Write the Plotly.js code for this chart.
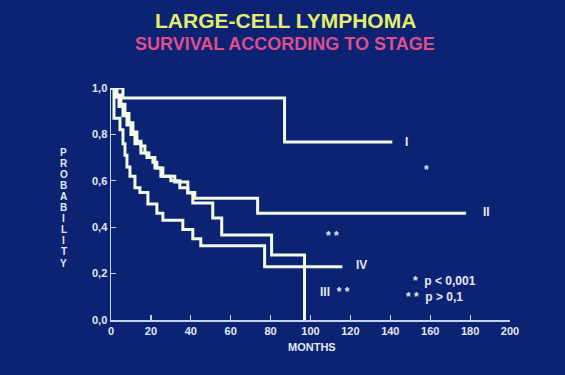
<!DOCTYPE html>
<html>
<head>
<meta charset="utf-8">
<script src="https://cdn.plot.ly/plotly-3.0.1.min.js"></script>
<style>html,body{margin:0;padding:0;background:#0c2272;}#chart{width:565px;height:375px;}</style>
</head>
<body>
<div id="chart"></div>
<script>
// Data (months, survival probability)
const stageI_t = [0, 6, 87, 141];
const stageI_s = [1.0, 0.957, 0.767, 0.767];

const stageII_t = [0, 3, 5, 7, 9, 11, 13, 15, 17, 19, 21, 23, 26, 32, 38.5, 42, 73.5, 178];
const stageII_s = [1.0, 0.97, 0.93, 0.89, 0.85, 0.81, 0.77, 0.75, 0.72, 0.70, 0.68, 0.655, 0.62, 0.595, 0.55, 0.525, 0.46, 0.46];

const stageIII_t = [0, 2.5, 4, 6, 8, 10, 12, 15, 18, 22, 25, 30, 34.5, 38.5, 41, 51, 55.5, 80.5, 97];
const stageIII_s = [1.0, 0.96, 0.92, 0.88, 0.84, 0.80, 0.76, 0.72, 0.70, 0.655, 0.62, 0.60, 0.57, 0.547, 0.504, 0.44, 0.366, 0.28, 0.0];

const stageIV_t = [0, 1.5, 4.5, 6, 7, 8, 9.5, 12, 14.5, 18.5, 23, 26, 36, 41, 45, 77, 116];
const stageIV_s = [1.0, 0.87, 0.82, 0.76, 0.71, 0.66, 0.62, 0.57, 0.55, 0.50, 0.46, 0.43, 0.39, 0.35, 0.32, 0.23, 0.23];

const titleText = "LARGE-CELL LYMPHOMA";
const subtitleText = "SURVIVAL ACCORDING TO STAGE";
const yTitle = "PROBABILITY";
const xTitle = "MONTHS";

const lineColor = "#f2fbe6";
const fontFam = "Liberation Sans, Arial, Helvetica, sans-serif";
const txtColor = "#e2e9f4";

function curve(t, s) {
  return {x: t, y: s, type: "scatter", mode: "lines",
    line: {shape: "hv", color: lineColor, width: 3},
    cliponaxis: false, hoverinfo: "skip", showlegend: false};
}

const data = [curve(stageI_t, stageI_s), curve(stageII_t, stageII_s),
              curve(stageIII_t, stageIII_s), curve(stageIV_t, stageIV_s)];

const lblFont = {family: fontFam, size: 12, color: txtColor, weight: "bold"};
function ann(o) { return Object.assign({showarrow: false, xanchor: "center", yanchor: "middle"}, o); }
const annotations = [
  ann({text: titleText, xref: "paper", yref: "paper", x: 0.437, y: 1.293,
   font: {family: fontFam, size: 21, color: "#e4ee6c", weight: "bold"}}),
  ann({text: subtitleText, xref: "paper", yref: "paper", x: 0.437, y: 1.19,
   font: {family: fontFam, size: 18, color: "#de4f8c", weight: "bold"}}),
  ann({text: xTitle, xref: "paper", yref: "paper", x: 0.505, y: -0.116,
   font: {family: fontFam, size: 11, color: txtColor, weight: "bold"}}),
  ann({text: "I", x: 148, y: 0.767, font: lblFont}),
  ann({text: "*", x: 158, y: 0.645, font: lblFont}),
  ann({text: "II", x: 188, y: 0.465, font: lblFont}),
  ann({text: "* *", x: 111, y: 0.362, font: lblFont}),
  ann({text: "IV", x: 125.5, y: 0.237, font: lblFont}),
  ann({text: "III  * *", x: 112.5, y: 0.122, font: lblFont}),
  ann({text: "*  p < 0,001", x: 150.5, y: 0.168, xanchor: "left", font: lblFont}),
  ann({text: "* *  p > 0,1", x: 147, y: 0.098, xanchor: "left", font: lblFont})
];
for (let i = 0; i < yTitle.length; i++) {
  annotations.push(ann({text: yTitle[i], xref: "paper", yref: "paper",
    x: -0.118, y: (320 - (152 + 11.1 * i)) / 232,
    font: {family: fontFam, size: 10, color: txtColor, weight: "bold"}}));
}

const axisCommon = {showline: true, linecolor: "#c5d3ee", linewidth: 1.5,
  showgrid: false, zeroline: false, ticks: "inside", ticklen: 5, tickwidth: 1.2,
  tickcolor: "#c5d3ee", tickfont: {family: fontFam, size: 11, color: txtColor, weight: "bold"},
  fixedrange: true};

const layout = {
  width: 565, height: 375,
  margin: {l: 111, r: 55, t: 88, b: 55},
  paper_bgcolor: "#0c2272", plot_bgcolor: "#0c2272",
  separators: ",.",
  showlegend: false,
  xaxis: Object.assign({}, axisCommon, {range: [0, 200], dtick: 20, tick0: 0}),
  yaxis: Object.assign({}, axisCommon, {range: [0, 1], dtick: 0.2, tick0: 0, tickformat: ".1f"}),
  annotations: annotations
};

Plotly.newPlot("chart", data, layout, {displayModeBar: false, staticPlot: true});
</script>
</body>
</html>
